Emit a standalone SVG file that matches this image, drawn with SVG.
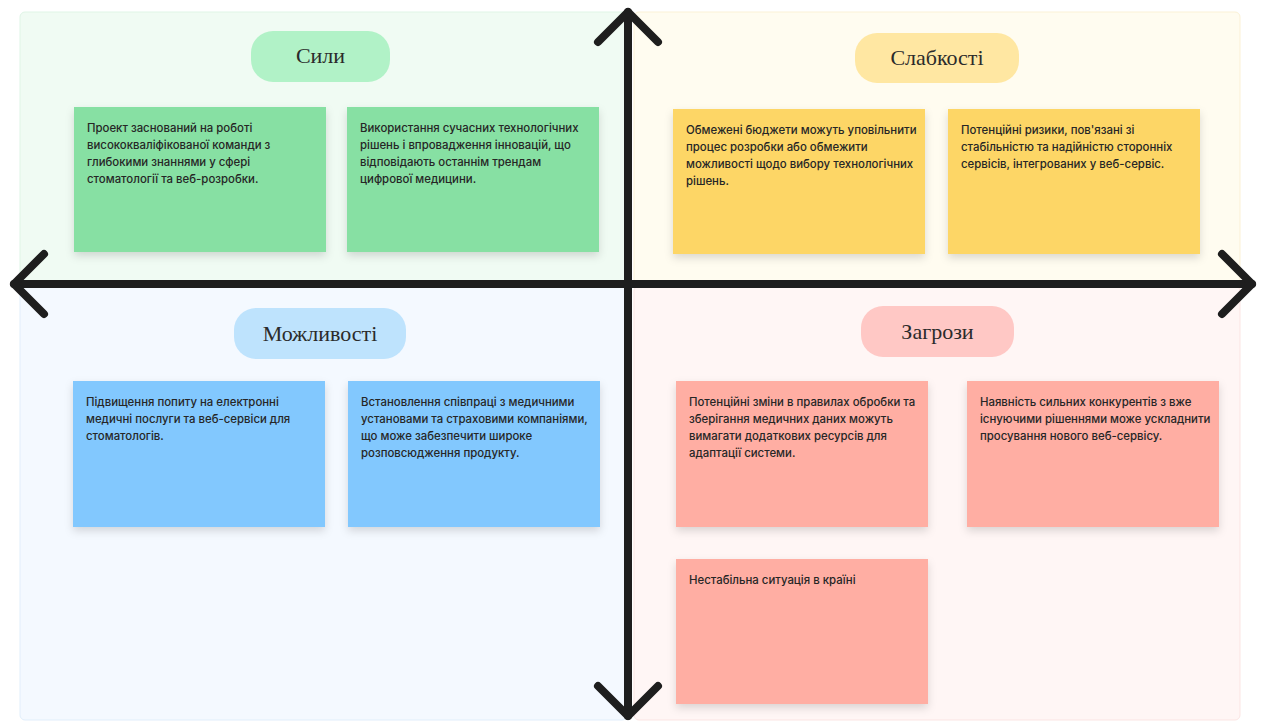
<svg xmlns="http://www.w3.org/2000/svg" width="1262" height="724" viewBox="0 0 1262 724">
  <defs>
    <filter id="shadow" x="-10%" y="-10%" width="120%" height="130%">
      <feDropShadow dx="0" dy="4" stdDeviation="4" flood-color="#000" flood-opacity="0.14"/>
    </filter>
  </defs>
  <style>
    .quad { stroke-width: 1; }
    .pill { stroke: none; }
    .title { font-family: "Liberation Serif", "DejaVu Serif", serif; font-size: 22px; fill: #2b2b2b; text-anchor: middle; }
    .note { filter: url(#shadow); }
    .txt { font-family: Inter, "Noto Sans", "Liberation Sans", sans-serif; font-size: 11.4px; font-weight: 500; fill: #262626; }
    .green { fill: #87e0a3; }
    .yellow { fill: #fdd666; }
    .blue { fill: #82c8fe; }
    .red { fill: #ffaea3; }
    .axis { fill: none; stroke: #1e1e1e; stroke-width: 8; stroke-linecap: round; stroke-linejoin: round; }
  </style>

  <rect width="1262" height="724" fill="#ffffff"/>

  <!-- quadrant backgrounds -->
  <g id="quadrants">
    <rect class="quad" x="20" y="12" width="607" height="272" rx="5" fill="#f0fbf3" stroke="#dff5e6"/>
    <rect class="quad" x="634" y="12" width="606" height="272" rx="5" fill="#fffcf0" stroke="#fbf1d6"/>
    <rect class="quad" x="20" y="286" width="607" height="434" rx="5" fill="#f4f9ff" stroke="#e1eefb"/>
    <rect class="quad" x="634" y="286" width="606" height="434" rx="5" fill="#fff6f5" stroke="#fbe5e3"/>
  </g>

  <!-- Strengths -->
  <g id="strengths-title">
    <rect class="pill" x="251" y="31" width="139" height="51" rx="22" fill="#b1f2c7"/>
    <text class="title" x="320.5" y="63">Сили</text>
  </g>
  <g id="strength-1">
    <rect class="note green" x="74" y="107" width="252" height="145"/>
    <text class="txt" x="87" y="132">Проект заснований на роботі<tspan x="87" dy="17">висококваліфікованої команди з</tspan><tspan x="87" dy="17">глибокими знаннями у сфері</tspan><tspan x="87" dy="17">стоматології та веб-розробки.</tspan></text>
  </g>
  <g id="strength-2">
    <rect class="note green" x="347" y="107" width="252" height="145"/>
    <text class="txt" x="360" y="132">Використання сучасних технологічних<tspan x="360" dy="17">рішень і впровадження інновацій, що</tspan><tspan x="360" dy="17">відповідають останнім трендам</tspan><tspan x="360" dy="17">цифрової медицини.</tspan></text>
  </g>

  <!-- Weaknesses -->
  <g id="weaknesses-title">
    <rect class="pill" x="855" y="33" width="164" height="50" rx="22" fill="#ffe7a2"/>
    <text class="title" x="937" y="65">Слабкості</text>
  </g>
  <g id="weakness-1">
    <rect class="note yellow" x="673" y="109" width="252" height="145"/>
    <text class="txt" x="686" y="134">Обмежені бюджети можуть уповільнити<tspan x="686" dy="17">процес розробки або обмежити</tspan><tspan x="686" dy="17">можливості щодо вибору технологічних</tspan><tspan x="686" dy="17">рішень.</tspan></text>
  </g>
  <g id="weakness-2">
    <rect class="note yellow" x="948" y="109" width="252" height="145"/>
    <text class="txt" x="961" y="134">Потенційні ризики, пов'язані зі<tspan x="961" dy="17">стабільністю та надійністю сторонніх</tspan><tspan x="961" dy="17">сервісів, інтегрованих у веб-сервіс.</tspan></text>
  </g>

  <!-- Opportunities -->
  <g id="opportunities-title">
    <rect class="pill" x="234" y="308" width="172" height="51" rx="22" fill="#bee3fd"/>
    <text class="title" x="320" y="341">Можливості</text>
  </g>
  <g id="opportunity-1">
    <rect class="note blue" x="73" y="381" width="252" height="146"/>
    <text class="txt" x="86" y="406">Підвищення попиту на електронні<tspan x="86" dy="17">медичні послуги та веб-сервіси для</tspan><tspan x="86" dy="17">стоматологів.</tspan></text>
  </g>
  <g id="opportunity-2">
    <rect class="note blue" x="348" y="381" width="252" height="146"/>
    <text class="txt" x="361" y="406">Встановлення співпраці з медичними<tspan x="361" dy="17">установами та страховими компаніями,</tspan><tspan x="361" dy="17">що може забезпечити широке</tspan><tspan x="361" dy="17">розповсюдження продукту.</tspan></text>
  </g>

  <!-- Threats -->
  <g id="threats-title">
    <rect class="pill" x="861" y="306" width="153" height="51" rx="22" fill="#ffc8c5"/>
    <text class="title" x="937.5" y="339">Загрози</text>
  </g>
  <g id="threat-1">
    <rect class="note red" x="676" y="381" width="252" height="146"/>
    <text class="txt" x="689" y="406">Потенційні зміни в правилах обробки та<tspan x="689" dy="17">зберігання медичних даних можуть</tspan><tspan x="689" dy="17">вимагати додаткових ресурсів для</tspan><tspan x="689" dy="17">адаптації системи.</tspan></text>
  </g>
  <g id="threat-2">
    <rect class="note red" x="967" y="381" width="252" height="146"/>
    <text class="txt" x="980" y="406">Наявність сильних конкурентів з вже<tspan x="980" dy="17">існуючими рішеннями може ускладнити</tspan><tspan x="980" dy="17">просування нового веб-сервісу.</tspan></text>
  </g>
  <g id="threat-3">
    <rect class="note red" x="676" y="559" width="252" height="145"/>
    <text class="txt" x="689" y="584">Нестабільна ситуація в країні</text>
  </g>

  <!-- axes -->
  <g id="connectors">
    <path class="axis" d="M14 284 H1252"/>
    <path class="axis" d="M44 254 L14 284 L44 314"/>
    <path class="axis" d="M1222 254 L1252 284 L1222 314"/>
    <path class="axis" d="M628 12 V716"/>
    <path class="axis" d="M598 42 L628 12 L658 42"/>
    <path class="axis" d="M598 686 L628 716 L658 686"/>
  </g>
</svg>
